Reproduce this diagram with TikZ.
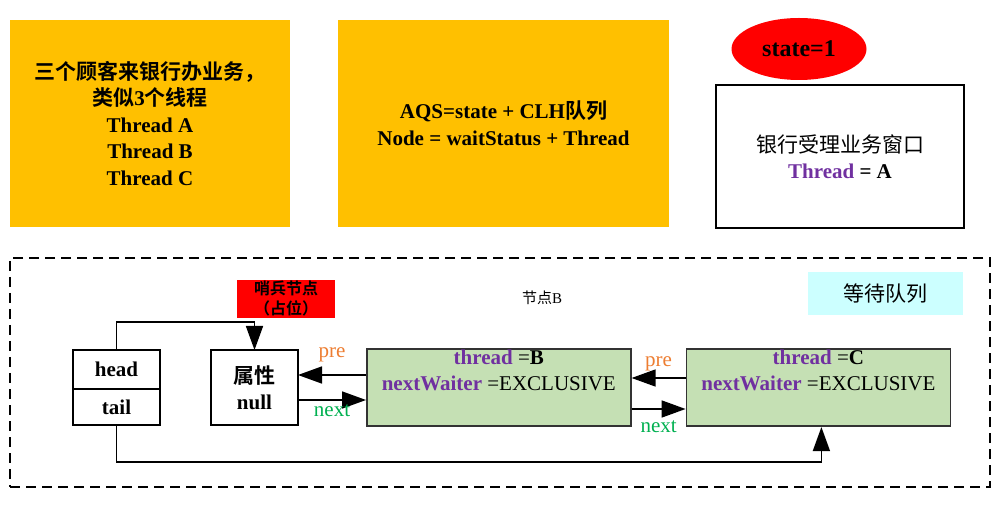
\documentclass[tikz,border=0pt]{standalone}
\usepackage{fontspec}
\setmainfont{Liberation Serif}
\newfontfamily\cjk{Noto Sans CJK SC}[BoldFont={Noto Sans CJK SC Bold}]
\usetikzlibrary{arrows.meta,positioning,shapes.geometric}

\definecolor{boxorange}{HTML}{FFC000}
\definecolor{queuecyan}{HTML}{CCFFFF}
\definecolor{waitgreen}{HTML}{C5E0B4}
\definecolor{threadpurple}{HTML}{7030A0}
\definecolor{preorange}{HTML}{ED7D31}
\definecolor{nextgreen}{HTML}{00B050}
\newcommand{\zh}[1]{{\cjk #1}}
\newcommand{\field}[1]{\textcolor{threadpurple}{\textbf{#1}}}

\begin{document}
\begin{tikzpicture}[x=1pt, y=-1pt, line width=1.6pt,
  every node/.style={inner sep=1pt, align=center, font=\fontsize{21}{26.5}\selectfont},
  bold/.style={font=\fontsize{21}{26.5}\selectfont\bfseries},
  orangebox/.style={fill=boxorange, bold, minimum width=#1, minimum height=207pt},
  cell/.style={draw, bold, outer sep=0pt, minimum width=87pt},
  waiter/.style={draw=black!80, fill=waitgreen, minimum width=264pt, minimum height=75pt},
  arrow/.style={-{Triangle[length=24pt 0 0,width=17pt 0 0]}},
  prelabel/.style={text=preorange},
  nextlabel/.style={text=nextgreen}]
\useasboundingbox (0,0) rectangle (1001,510);

\node[orangebox=280pt] (customers) at (150,123.5)
  {\zh{三个顾客来银行办业务，}\\\zh{类似}3\zh{个线程}\\Thread A\\Thread B\\Thread C};
\node[orangebox=331pt] (aqs) at (503.5,123.5)
  {AQS=state + CLH\zh{队列}\\Node = waitStatus + Thread};
\node[ellipse, fill=red, inner sep=0pt, minimum width=135pt, minimum height=62pt,
  font=\fontsize{24}{28}\selectfont\bfseries] (state) at (799,49) {state=1};
\node[draw, minimum width=248pt, minimum height=143pt] (window) at (840,156.5)
  {\zh{银行受理业务窗口}\\\textbf{\textcolor{threadpurple}{Thread} = A}};

% waiting queue
\node[draw, line width=1.1pt, dash pattern=on 10pt off 6pt, minimum width=980pt,
  minimum height=229pt] (frame) at (500,372.5) {};
\node[fill=red, minimum width=98pt, minimum height=36pt,
  font=\fontsize{16}{20}\selectfont\bfseries] (sentinel) at (286,299) {\zh{哨兵节点}\\\zh{（占位）}};
\node[font=\fontsize{15}{18}\selectfont] (labelB) at (542,298) {\zh{节点}B};
\node[fill=queuecyan, minimum width=155pt, minimum height=43pt] (queue) at (885.5,293.5) {\zh{等待队列}};

\node[cell, minimum height=39pt] (head) at (116.5,369.5) {head};
\node[cell, minimum height=36pt, below=0pt of head] (tail) {tail};
\node[cell, minimum height=75pt] (attr) at (254.5,387.5) {\zh{属性}\\null};
\node[waiter, right=68pt of attr] (nodeB) {\field{thread} =\textbf{B}\\\field{nextWaiter} =EXCLUSIVE\\\strut};
\node[waiter, right=54pt of nodeB] (nodeC) {\field{thread} =\textbf{C}\\\field{nextWaiter} =EXCLUSIVE\\\strut};

\draw[arrow] (head.north) -- ++(0,-28) -| (attr.north);
\draw[arrow] (tail.south) -- ++(0,37) -| ([xshift=3pt]nodeC.south);
\draw[arrow] ([yshift=12.5pt]nodeB.west) -- ([yshift=12.5pt]attr.east)
  node[midway, above=11pt, prelabel] (preB) {pre};
\draw[arrow] ([yshift=-12.5pt]attr.east) -- ([yshift=-12.5pt]nodeB.west)
  node[midway, below=3pt, nextlabel] (nextB) {next};
\draw[arrow] ([yshift=9.5pt]nodeC.west) -- ([yshift=9.5pt]nodeB.east)
  node[midway, above=5pt, prelabel] (preC) {pre};
\draw[arrow] ([yshift=-21.5pt]nodeB.east) -- ([yshift=-21.5pt]nodeC.west)
  node[midway, below=10pt, nextlabel] (nextC) {next};
\end{tikzpicture}
\end{document}
